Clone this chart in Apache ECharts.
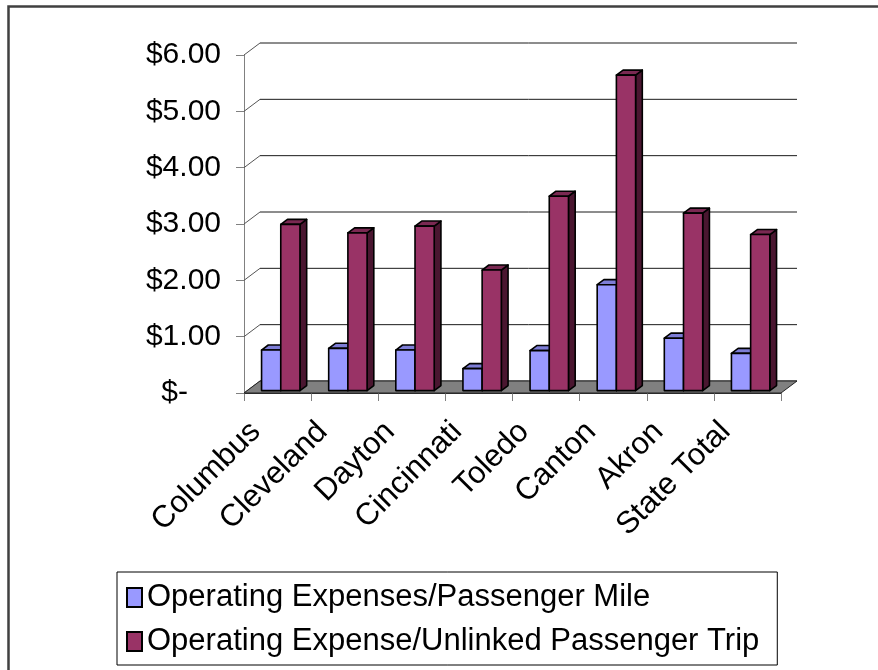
<!DOCTYPE html>
<html>
<head>
<meta charset="utf-8">
<script src="https://cdn.jsdelivr.net/npm/echarts@6/dist/echarts.min.js"></script>
<style>
html,body{margin:0;padding:0;background:#fff;}
#chart{width:878px;height:670px;}
</style>
</head>
<body>
<div id="chart"></div>
<script>
// ---- data ----
var categories = ['Columbus','Cleveland','Dayton','Cincinnati','Toledo','Canton','Akron','State Total'];
var milePerPassenger = [0.72, 0.75, 0.72, 0.39, 0.71, 1.88, 0.93, 0.66];
var tripPerPassenger = [2.95, 2.80, 2.92, 2.14, 3.45, 5.60, 3.15, 2.77];
var yTicks = [0, 1, 2, 3, 4, 5, 6];
var seriesNames = ['Operating Expenses/Passenger Mile', 'Operating Expense/Unlinked Passenger Trip'];

// ---- styling / 3D geometry ----
var FONT = 'Liberation Sans, Arial, sans-serif';
var DX = 16, DY = -12;       // full depth offset of the 3D box
var F0 = 0.2, F1 = 0.62;     // bar front / back depth fractions
var BARW = 0.286;            // bar width as fraction of category band
var palette = [
  {front:'#9999FF', top:'#7d7dd6', side:'#5c5c99'},
  {front:'#993366', top:'#7a2952', side:'#4a1630'}
];

function wallsRender(params, api) {
  var band = api.size([1, 0])[0];
  var xL = api.coord([0, 0])[0] - band / 2;
  var xR = api.coord([categories.length - 1, 0])[0] + band / 2;
  var children = [];
  yTicks.forEach(function (t) {
    var y = api.coord([0, t])[1];
    children.push({type:'line', shape:{x1:xL + DX, y1:y + DY, x2:xR + DX, y2:y + DY},
      style:{stroke:'#1a1a1a', lineWidth:1}});
    children.push({type:'line', shape:{x1:xL, y1:y, x2:xL + DX, y2:y + DY},
      style:{stroke:'#555', lineWidth:1}});
  });
  var y0 = api.coord([0, 0])[1];
  children.push({type:'polygon', shape:{points:[[xL, y0],[xR, y0],[xR + DX, y0 + DY],[xL + DX, y0 + DY]]},
    style:{fill:'#808080', stroke:'#222', lineWidth:1}});
  return {type:'group', children:children};
}

function makeBarRender(s) {
  return function (params, api) {
    var i = api.value(0), v = api.value(1);
    var c = api.coord([i, v]);
    var b = api.coord([i, 0]);
    var band = api.size([1, 0])[0];
    var w = band * BARW;
    var x0 = c[0] - w + s * w + F0 * DX;
    var x1 = x0 + w;
    var yT = c[1] + F0 * DY;
    var yB = b[1] + F0 * DY;
    var ddx = (F1 - F0) * DX, ddy = (F1 - F0) * DY;
    var col = palette[s];
    var st = {stroke:'#000', lineWidth:1.6, lineJoin:'round'};
    return {type:'group', children:[
      {type:'polygon', shape:{points:[[x1, yT],[x1 + ddx, yT + ddy],[x1 + ddx, yB + ddy],[x1, yB]]},
        style:Object.assign({fill:col.side}, st)},
      {type:'polygon', shape:{points:[[x0, yT],[x1, yT],[x1 + ddx, yT + ddy],[x0 + ddx, yT + ddy]]},
        style:Object.assign({fill:col.top}, st)},
      {type:'rect', shape:{x:x0, y:yT, width:w, height:yB - yT},
        style:Object.assign({fill:col.front}, st)}
    ]};
  };
}

function toPairs(arr) { return arr.map(function (v, i) { return [i, v]; }); }

var chart = echarts.init(document.getElementById('chart'), null, {renderer:'canvas'});
chart.setOption({
  backgroundColor:'#fff',
  animation:false,
  textStyle:{fontFamily:FONT},
  graphic:[{type:'rect', silent:true, z:-1,
    shape:{x:8.5, y:6.5, width:900, height:700},
    style:{fill:'none', stroke:'#404040', lineWidth:2.5}}],
  grid:{left:244, top:55, width:537, height:338},
  xAxis:{
    type:'category', data:categories,
    axisLine:{lineStyle:{color:'#333', width:1}},
    axisTick:{show:true, length:8, lineStyle:{color:'#808080'}},
    axisLabel:{rotate:45, margin:12, fontSize:31, color:'#000', fontFamily:FONT, interval:0,
      padding:[0, 31, 0, 0]},
    splitLine:{show:false}
  },
  yAxis:{
    type:'value', min:0, max:6, interval:1,
    axisLine:{show:true, lineStyle:{color:'#808080', width:1}},
    axisTick:{show:true, length:8, lineStyle:{color:'#808080'}},
    splitLine:{show:false},
    axisLabel:{margin:23, fontSize:30, color:'#000', fontFamily:FONT,
      formatter:function (v) { return v === 0 ? '{z|$-}' : '$' + v.toFixed(2); },
      rich:{z:{fontSize:30, fontFamily:FONT, color:'#000', padding:[0, 33, 0, 0]}}}
  },
  legend:{
    orient:'vertical', left:117, top:572,
    padding:[10, 18, 8, 9], itemGap:13, itemWidth:15, itemHeight:19,
    borderColor:'#000', borderWidth:1, icon:'rect',
    textStyle:{fontFamily:FONT, fontSize:31, color:'#000'},
    data:[
      {name:seriesNames[0], itemStyle:{color:palette[0].front, borderColor:'#000', borderWidth:2}},
      {name:seriesNames[1], itemStyle:{color:palette[1].front, borderColor:'#000', borderWidth:2}}
    ]
  },
  series:[
    {type:'custom', name:'walls', silent:true, z:1, clip:false,
      renderItem:wallsRender, data:[[0, 0]], encode:{x:0, y:1}},
    {type:'custom', name:seriesNames[0], z:2, clip:false,
      itemStyle:{color:palette[0].front},
      renderItem:makeBarRender(0), data:toPairs(milePerPassenger), encode:{x:0, y:1}},
    {type:'custom', name:seriesNames[1], z:3, clip:false,
      itemStyle:{color:palette[1].front},
      renderItem:makeBarRender(1), data:toPairs(tripPerPassenger), encode:{x:0, y:1}}
  ]
});
</script>
</body>
</html>
